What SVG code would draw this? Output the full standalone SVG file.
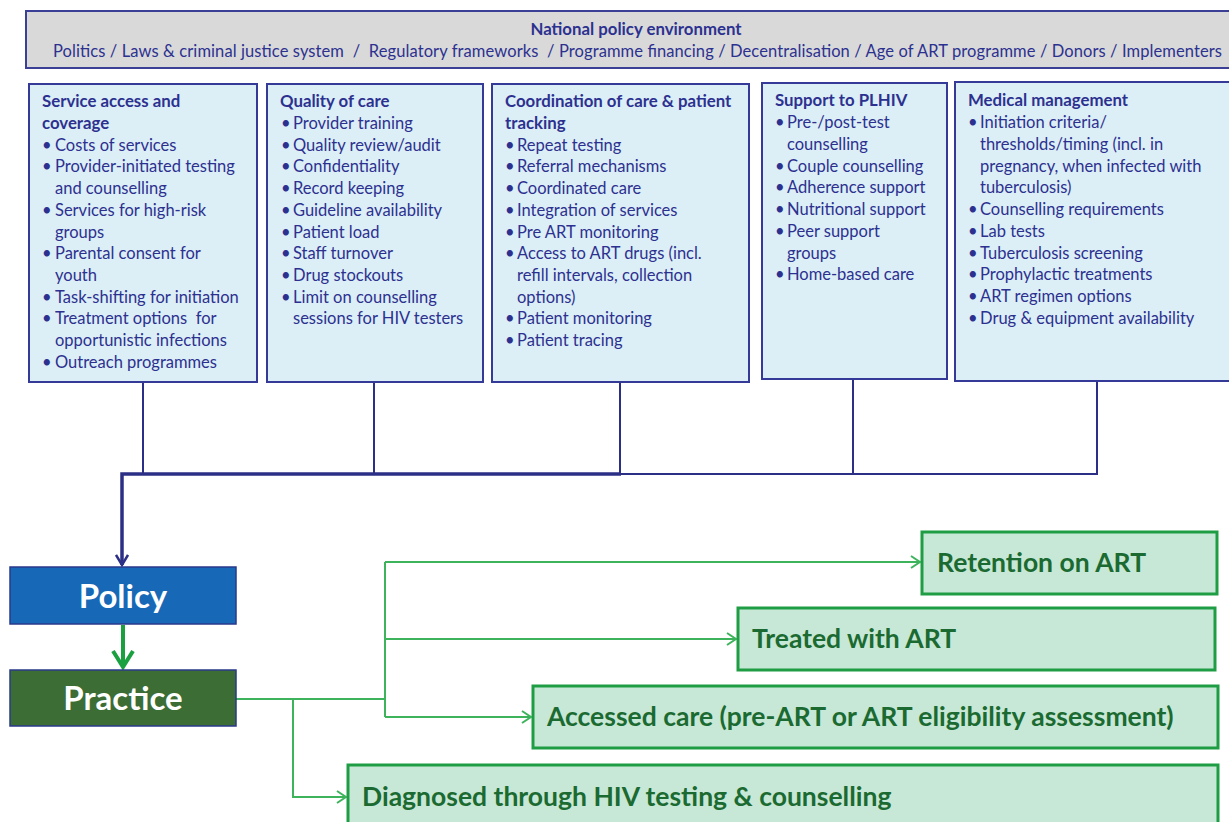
<svg xmlns="http://www.w3.org/2000/svg" width="1229" height="822" viewBox="0 0 1229 822">
<defs>
<style>
.bg{fill:#ffffff}
.top{fill:#d9d9d9;stroke:#3b3f96;stroke-width:2}
.cat{fill:#dceef6;stroke:#353a98;stroke-width:2}
.t{font-family:Lato,"Open Sans","Liberation Sans",sans-serif;font-size:16.5px;fill:#2c3190}
.h{font-weight:bold;font-size:16.8px}
.navy{stroke:#2c2f86;fill:none;stroke-width:2}
.navyThick{stroke:#2c2f86;fill:none;stroke-width:3.5}
.gline{stroke:#3db35b;fill:none;stroke-width:2}
.gbox{fill:#c7e8d6;stroke:#1f9d44;stroke-width:3}
.gt{font-family:Lato,"Open Sans","Liberation Sans",sans-serif;font-size:26.5px;font-weight:bold;fill:#1b6a31}
.big{font-family:Lato,"Open Sans","Liberation Sans",sans-serif;font-size:33px;font-weight:bold;fill:#ffffff;text-anchor:middle}
</style>
<marker id="navyArrow" markerWidth="14" markerHeight="14" refX="12" refY="7" orient="auto" markerUnits="userSpaceOnUse">
<path d="M2,1 L12,7 L2,13" fill="none" stroke="#2c2f86" stroke-width="2.5"/>
</marker>
<marker id="greenBig" markerWidth="24" markerHeight="24" refX="20" refY="12" orient="auto" markerUnits="userSpaceOnUse">
<path d="M4,2 L20,12 L4,22" fill="none" stroke="#1aa040" stroke-width="4"/>
</marker>
<marker id="greenArrow" markerWidth="14" markerHeight="14" refX="12" refY="7" orient="auto" markerUnits="userSpaceOnUse">
<path d="M3,1 L12,7 L3,13" fill="none" stroke="#3db35b" stroke-width="2"/>
</marker>
</defs>
<rect class="bg" x="0" y="0" width="1229" height="822"/>

<g id="national-policy">
<rect class="top" x="26" y="11" width="1215" height="57"/>
<text class="t h" x="636" y="35" text-anchor="middle">National policy environment</text>
<text class="t" x="53" y="57" textLength="1169" lengthAdjust="spacing" xml:space="preserve">Politics / Laws &amp; criminal justice system  /  Regulatory frameworks  / Programme financing / Decentralisation / Age of ART programme / Donors / Implementers</text>
</g>

<g id="connectors">
<line class="navy" x1="143" y1="382" x2="143" y2="474"/>
<line class="navy" x1="374" y1="382" x2="374" y2="474"/>
<line class="navy" x1="620" y1="382" x2="620" y2="474"/>
<line class="navy" x1="853" y1="380" x2="853" y2="474"/>
<line class="navy" x1="1097" y1="381" x2="1097" y2="474"/>
<line class="navy" x1="620" y1="474" x2="1098" y2="474"/>
<path class="navyThick" d="M621,474 L122,474 L122,565" marker-end="url(#navyArrow)"/>
<line x1="123" y1="625" x2="123" y2="667" stroke="#1aa040" stroke-width="4" marker-end="url(#greenBig)"/>
<path class="gline" d="M236,699 L385,699"/>
<path class="gline" d="M385,562 L385,717"/>
<path class="gline" d="M385,562 L920,562" marker-end="url(#greenArrow)"/>
<path class="gline" d="M385,639 L736,639" marker-end="url(#greenArrow)"/>
<path class="gline" d="M385,717 L531,717" marker-end="url(#greenArrow)"/>
<path class="gline" d="M293,699 L293,797 L346,797" marker-end="url(#greenArrow)"/>
</g>

<g id="service-access">
<rect class="cat" x="29" y="84" width="228" height="298"/>
<text class="t h" x="42" y="107">Service access and</text>
<text class="t h" x="42" y="129">coverage</text>
<text class="t" x="42" y="151">•</text><text class="t" x="55" y="151">Costs of services</text>
<text class="t" x="42" y="172">•</text><text class="t" x="55" y="172">Provider-initiated testing</text>
<text class="t" x="55" y="194">and counselling</text>
<text class="t" x="42" y="216">•</text><text class="t" x="55" y="216">Services for high-risk</text>
<text class="t" x="55" y="238">groups</text>
<text class="t" x="42" y="259">•</text><text class="t" x="55" y="259">Parental consent for</text>
<text class="t" x="55" y="281">youth</text>
<text class="t" x="42" y="303">•</text><text class="t" x="55" y="303">Task-shifting for initiation</text>
<text class="t" x="42" y="324">•</text><text class="t" x="55" y="324" xml:space="preserve">Treatment options  for</text>
<text class="t" x="55" y="346">opportunistic infections</text>
<text class="t" x="42" y="368">•</text><text class="t" x="55" y="368">Outreach programmes</text>
</g>

<g id="quality-of-care">
<rect class="cat" x="267" y="84" width="216" height="298"/>
<text class="t h" x="280" y="107">Quality of care</text>
<text class="t" x="281" y="129">•</text><text class="t" x="293" y="129">Provider training</text>
<text class="t" x="281" y="151">•</text><text class="t" x="293" y="151">Quality review/audit</text>
<text class="t" x="281" y="172">•</text><text class="t" x="293" y="172">Confidentiality</text>
<text class="t" x="281" y="194">•</text><text class="t" x="293" y="194">Record keeping</text>
<text class="t" x="281" y="216">•</text><text class="t" x="293" y="216">Guideline availability</text>
<text class="t" x="281" y="238">•</text><text class="t" x="293" y="238">Patient load</text>
<text class="t" x="281" y="259">•</text><text class="t" x="293" y="259">Staff turnover</text>
<text class="t" x="281" y="281">•</text><text class="t" x="293" y="281">Drug stockouts</text>
<text class="t" x="281" y="303">•</text><text class="t" x="293" y="303">Limit on counselling</text>
<text class="t" x="293" y="324">sessions for HIV testers</text>
</g>

<g id="coordination">
<rect class="cat" x="492" y="84" width="257" height="298"/>
<text class="t h" x="505" y="107">Coordination of care &amp; patient</text>
<text class="t h" x="505" y="129">tracking</text>
<text class="t" x="505" y="151">•</text><text class="t" x="517" y="151">Repeat testing</text>
<text class="t" x="505" y="172">•</text><text class="t" x="517" y="172">Referral mechanisms</text>
<text class="t" x="505" y="194">•</text><text class="t" x="517" y="194">Coordinated care</text>
<text class="t" x="505" y="216">•</text><text class="t" x="517" y="216">Integration of services</text>
<text class="t" x="505" y="238">•</text><text class="t" x="517" y="238">Pre ART monitoring</text>
<text class="t" x="505" y="259">•</text><text class="t" x="517" y="259">Access to ART drugs (incl.</text>
<text class="t" x="517" y="281">refill intervals, collection</text>
<text class="t" x="517" y="303">options)</text>
<text class="t" x="505" y="324">•</text><text class="t" x="517" y="324">Patient monitoring</text>
<text class="t" x="505" y="346">•</text><text class="t" x="517" y="346">Patient tracing</text>
</g>

<g id="support-plhiv">
<rect class="cat" x="762" y="83" width="185" height="296"/>
<text class="t h" x="775" y="106">Support to PLHIV</text>
<text class="t" x="775" y="128">•</text><text class="t" x="787" y="128">Pre-/post-test</text>
<text class="t" x="787" y="150">counselling</text>
<text class="t" x="775" y="172">•</text><text class="t" x="787" y="172">Couple counselling</text>
<text class="t" x="775" y="193">•</text><text class="t" x="787" y="193">Adherence support</text>
<text class="t" x="775" y="215">•</text><text class="t" x="787" y="215">Nutritional support</text>
<text class="t" x="775" y="237">•</text><text class="t" x="787" y="237">Peer support</text>
<text class="t" x="787" y="259">groups</text>
<text class="t" x="775" y="280">•</text><text class="t" x="787" y="280">Home-based care</text>
</g>

<g id="medical-management">
<rect class="cat" x="955" y="82" width="285" height="299"/>
<text class="t h" x="968" y="106">Medical management</text>
<text class="t" x="968" y="128">•</text><text class="t" x="980" y="128">Initiation criteria/</text>
<text class="t" x="980" y="150">thresholds/timing (incl. in</text>
<text class="t" x="980" y="172">pregnancy, when infected with</text>
<text class="t" x="980" y="193">tuberculosis)</text>
<text class="t" x="968" y="215">•</text><text class="t" x="980" y="215">Counselling requirements</text>
<text class="t" x="968" y="237">•</text><text class="t" x="980" y="237">Lab tests</text>
<text class="t" x="968" y="259">•</text><text class="t" x="980" y="259">Tuberculosis screening</text>
<text class="t" x="968" y="280">•</text><text class="t" x="980" y="280">Prophylactic treatments</text>
<text class="t" x="968" y="302">•</text><text class="t" x="980" y="302">ART regimen options</text>
<text class="t" x="968" y="324">•</text><text class="t" x="980" y="324">Drug &amp; equipment availability</text>
</g>

<g id="policy">
<rect x="10" y="567" width="226" height="57" fill="#1768b6" stroke="#2a3a8c" stroke-width="1.5"/>
<text class="big" x="123" y="608">Policy</text>
</g>

<g id="practice">
<rect x="10" y="670" width="226" height="56" fill="#3b6d34" stroke="#2a3a8c" stroke-width="1.5"/>
<text class="big" x="123" y="710">Practice</text>
</g>

<g id="retention">
<rect class="gbox" x="922" y="532" width="295" height="62"/>
<text class="gt" x="937" y="572">Retention on ART</text>
</g>

<g id="treated">
<rect class="gbox" x="738" y="608" width="477" height="62"/>
<text class="gt" x="752" y="648">Treated with ART</text>
</g>

<g id="accessed">
<rect class="gbox" x="533" y="686" width="685" height="62"/>
<text class="gt" x="547" y="726">Accessed care (pre-ART or ART eligibility assessment)</text>
</g>

<g id="diagnosed">
<rect class="gbox" x="348" y="765" width="870" height="70"/>
<text class="gt" x="362" y="806">Diagnosed through HIV testing &amp; counselling</text>
</g>
</svg>
